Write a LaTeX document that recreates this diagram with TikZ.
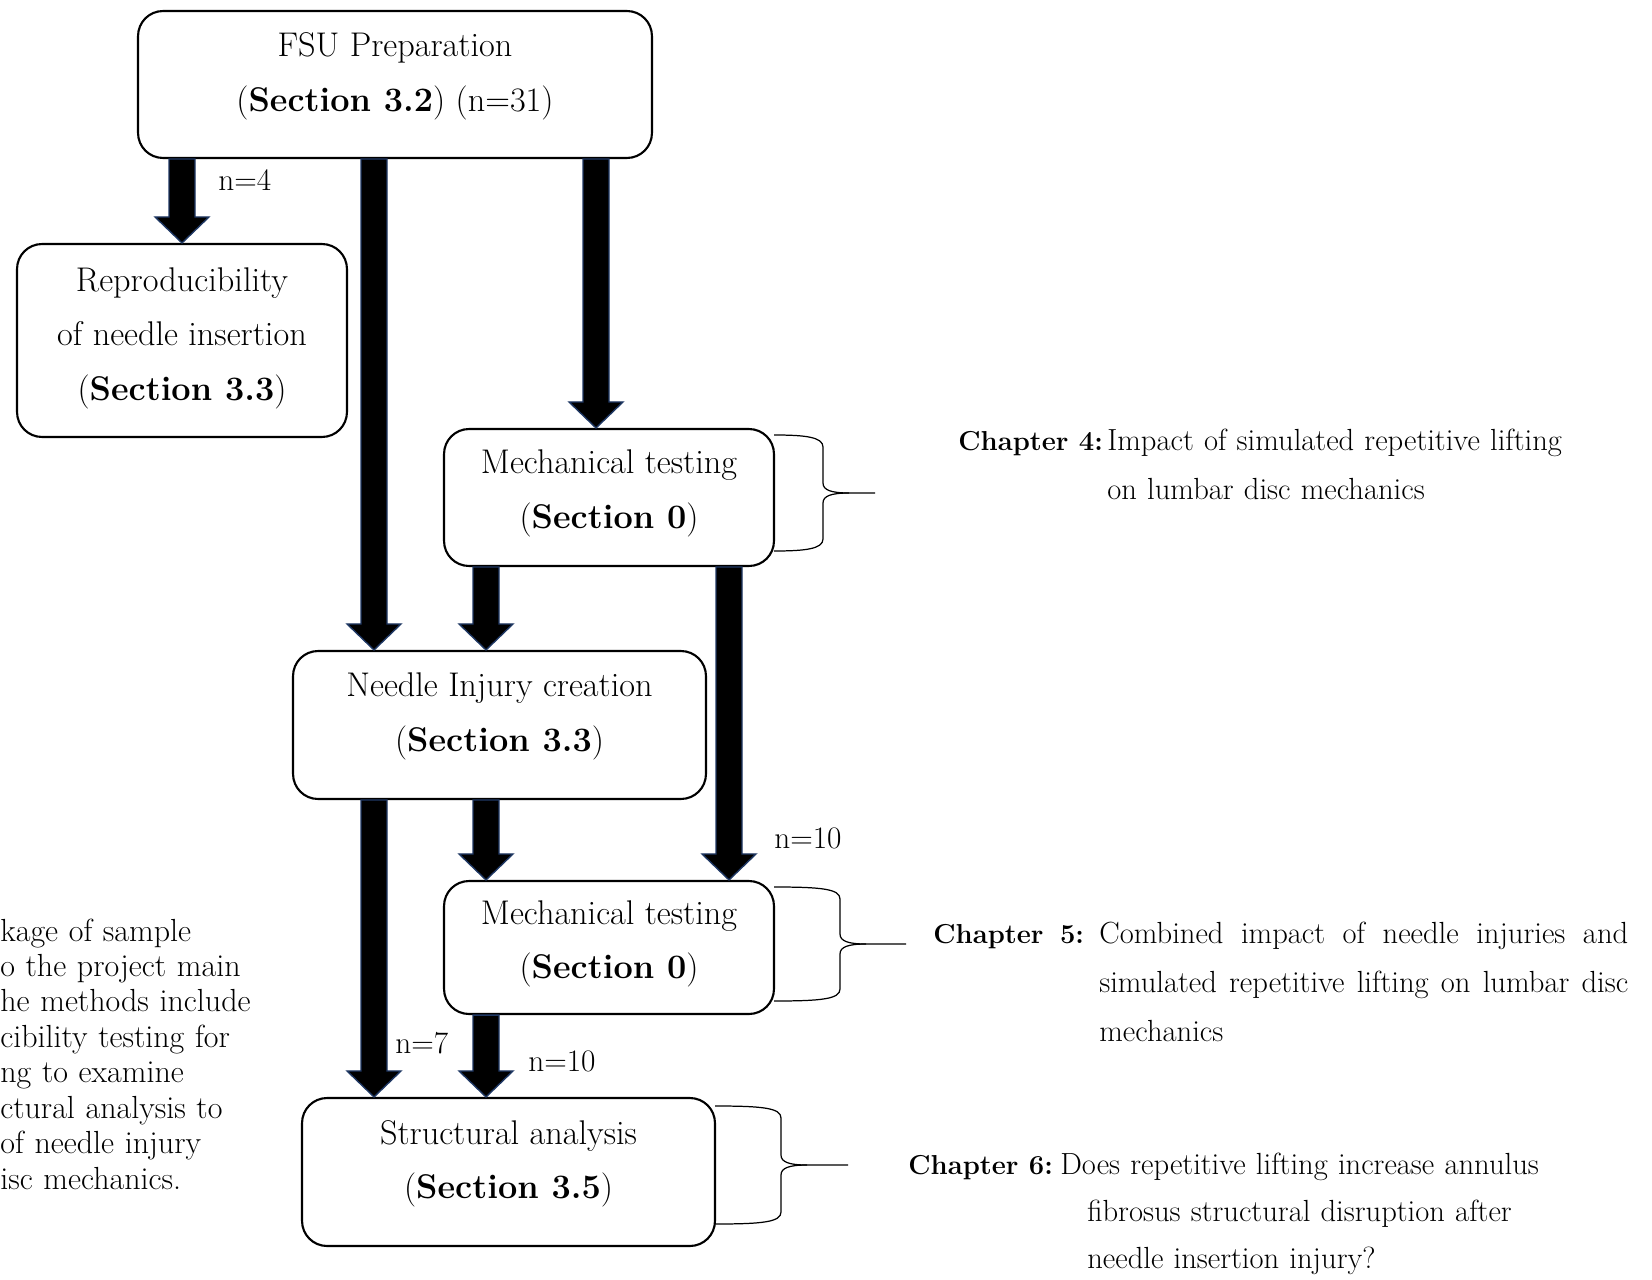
\documentclass[tikz,border=0pt]{standalone}
\usepackage{fontspec}
\usepackage{tikz}
\usepackage{amsmath}
\usetikzlibrary{calc}

\definecolor{arrowedge}{RGB}{31,56,100}

% right hand brace next to a box: left x, top y, bottom y, spine x, tip x
\newcommand{\sidebrace}[5]{%
  \pgfmathsetmacro{\bracemid}{(#2+#3)/2}
  \draw[bracket] (#1,#2) .. controls ({#4-18},#2) and (#4,{#2+2}) .. (#4,{#2+12})
    -- (#4,{\bracemid-10}) .. controls (#4,{\bracemid-3}) and ({#4+8},\bracemid) .. ({#4+26},\bracemid)
    -- (#5,\bracemid);
  \draw[bracket] (#1,#3) .. controls ({#4-18},#3) and (#4,{#3-2}) .. (#4,{#3-12})
    -- (#4,{\bracemid+10}) .. controls (#4,{\bracemid+3}) and ({#4+8},\bracemid) .. ({#4+26},\bracemid);
}

\begin{document}
\begin{tikzpicture}[x=0.02cm, y=-0.02cm,
    every node/.style={font=\fontsize{17.8}{30}\selectfont},
    stagebox/.style={draw, line width=1.2pt, rounded corners=0.5cm, align=center, inner sep=0pt,
      font=\fontsize{19.5}{31}\selectfont},
    blockarrow/.style={fill=black, draw=arrowedge, line width=0.8pt,
      to path={let \p1=(\tikztostart), \p2=(\tikztotarget) in
        ({\x1-0.26cm},\y1) -- ({\x1-0.26cm},{\y2+0.52cm}) -- ({\x1-0.54cm},{\y2+0.52cm})
        -- (\x1,\y2) -- ({\x1+0.54cm},{\y2+0.52cm}) -- ({\x1+0.26cm},{\y2+0.52cm})
        -- ({\x1+0.26cm},\y1) -- cycle}},
    bracket/.style={line width=0.7pt},
    nlabel/.style={anchor=west, inner sep=0pt},
    chaplabel/.style={anchor=base west, inner sep=0pt, font=\fontsize{15.6}{28}\selectfont\bfseries},
    chaptext/.style={anchor=base west, inner sep=0pt, font=\fontsize{17.4}{28}\selectfont},
  ]
	\useasboundingbox (0, 0) rectangle (1652, 1280);

		% the stages
		\node [stagebox, minimum width=10.28cm, minimum height=2.94cm, text depth=14pt] (fsu) at (395, 84.5)
		{FSU Preparation\\(\textbf{Section 3.2}) (n=31)};
		\node [stagebox, minimum width=6.6cm, minimum height=3.86cm, text depth=7.5pt] (repro) at (182, 340.5)
		{Reproducibility\\of needle insertion\\(\textbf{Section 3.3})};
		\node [stagebox, minimum width=6.6cm, minimum height=2.74cm, text depth=9.7pt] (mechA) at (609, 497.5)
		{Mechanical testing\\(\textbf{Section 0})};
		\node [stagebox, minimum width=8.26cm, minimum height=2.96cm, text depth=14.5pt] (needle) at (499.5, 725)
		{Needle Injury creation\\(\textbf{Section 3.3})};
		\node [stagebox, minimum width=6.6cm, minimum height=2.66cm, text depth=9.1pt] (mechB) at (609, 947.5)
		{Mechanical testing\\(\textbf{Section 0})};
		\node [stagebox, minimum width=8.26cm, minimum height=2.96cm, text depth=14.5pt] (struct) at (508.5, 1172)
		{Structural analysis\\(\textbf{Section 3.5})};

		% arrow columns
		\coordinate (colA) at (374, 0);
		\coordinate (colB) at (486, 0);
		\coordinate (colC) at (596, 0);
		\coordinate (colD) at (729, 0);

		\draw [blockarrow] (fsu.south -| repro.north) to (repro.north);
		\draw [blockarrow] (fsu.south -| colA) to (needle.north -| colA);
		\draw [blockarrow] (fsu.south -| colC) to (mechA.north -| colC);
		\draw [blockarrow] (mechA.south -| colB) to (needle.north -| colB);
		\draw [blockarrow] (mechA.south -| colD) to (mechB.north -| colD);
		\draw [blockarrow] (needle.south -| colA) to (struct.north -| colA);
		\draw [blockarrow] (needle.south -| colB) to (mechB.north -| colB);
		\draw [blockarrow] (mechB.south -| colB) to (struct.north -| colB);

		\node [nlabel] (nrepro) at (218, 180) {n=4};
		\node [nlabel] (nmechB) at (774, 838) {n=10};
		\node [nlabel] (nstructA) at (395, 1043) {n=7};
		\node [nlabel] (nstructB) at (528, 1061) {n=10};

		% braces to the chapters
		\sidebrace{774}{435}{551}{823}{875}
		\sidebrace{774}{887}{1001}{840}{906}
		\sidebrace{715}{1106}{1224}{781}{848}

		\node [chaplabel] (chapfour) at (958, 450) {Chapter 4:};
		\node [chaptext, text width=9.8cm, align=left] (chapfourtext) at (1107, 450)
		{Impact of simulated repetitive lifting\\on lumbar disc mechanics};

		\node [chaplabel] (chapfive) at (933, 943) {Chapter\hspace{0.6em}5:};
		\node [chaptext, text width=10.58cm, align=justify] (chapfivetext) at (1099, 943)
		{Combined impact of needle injuries and\linebreak simulated repetitive lifting on lumbar disc\linebreak mechanics};

		\node [chaplabel] (chapsix) at (908, 1174) {Chapter 6:};
		\node [chaptext, text width=11cm, align=left, font=\fontsize{17.4}{27}\selectfont] (chapsixtext) at (1060, 1174)
		{Does repetitive lifting increase annulus\\\hspace*{0.54cm}fibrosus structural disruption after\\\hspace*{0.54cm}needle insertion injury?};

		% caption cut at the left edge
		\node [anchor=base west, inner sep=0pt, text width=6cm, align=left,
		font=\fontsize{18.2}{20.2}\selectfont] (caption) at (0, 941)
		{kage of sample\\o the project main\\he methods include\\cibility testing for\\ng to examine\\ctural analysis to\\of needle injury\\isc mechanics.};
	\end{tikzpicture}
\end{document}
